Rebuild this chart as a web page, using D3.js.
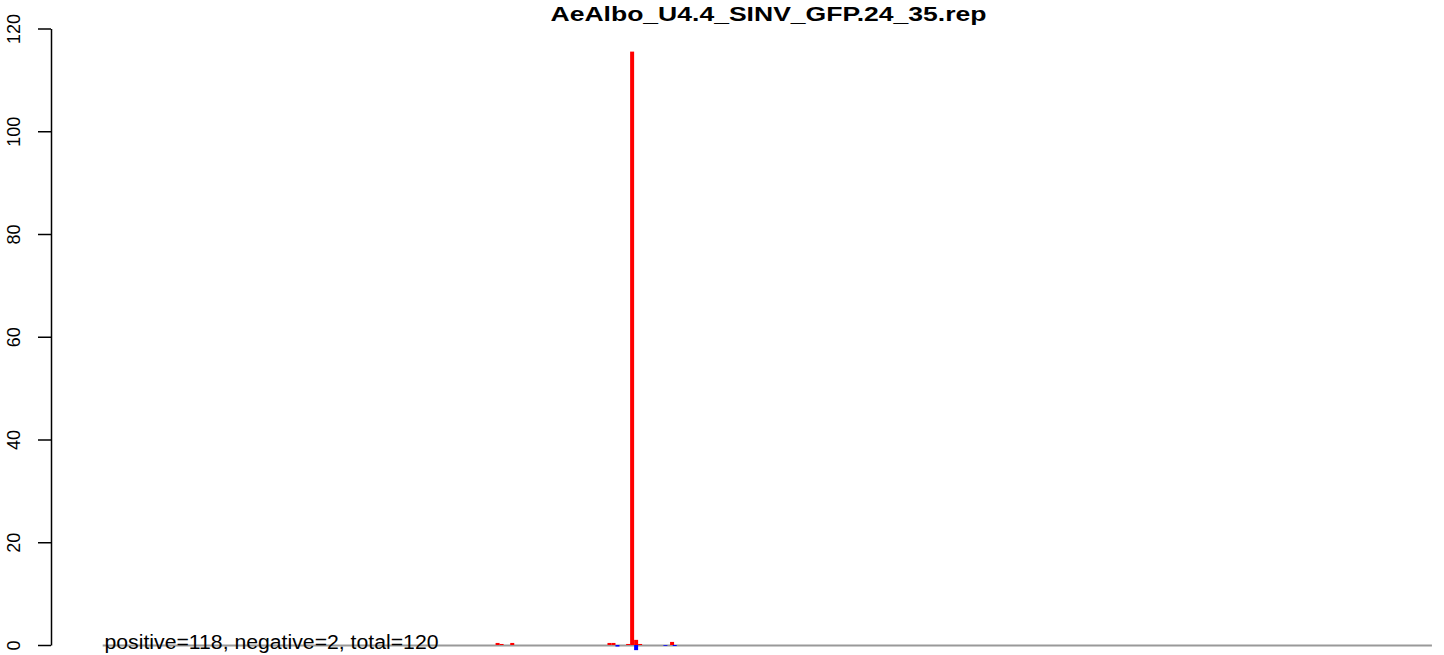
<!DOCTYPE html>
<html><head><meta charset="utf-8">
<script src="https://cdn.jsdelivr.net/npm/d3@7"></script>
<style>body{margin:0;background:#fff}svg{display:block}text{font-family:"Liberation Sans",Arial,sans-serif}</style>
</head><body><svg id="c" width="1444" height="655"></svg>
<script>
const title = "AeAlbo_U4.4_SINV_GFP.24_35.rep";
const summary = "positive=118, negative=2, total=120";
const yTicks = [0, 20, 40, 60, 80, 100, 120];
const posX = [297, 300, 308, 381, 384, 395, 398, 401, 404, 428];
const posV = [0.4, 0.2, 0.4, 0.4, 0.4, 0.2, 115.5, 1.0, 0.2, 0.6];
const negX = [387, 401, 423, 430];
const negV = [-0.3, -1.0, -0.15, -0.2];
const baseStart = 2, baseEnd = 1000, barW = 3;

const svg = d3.select("#c");
const x = d3.scaleLinear().domain([-36.8, 1002.3]).range([51, 1435]);
const y = d3.scaleLinear().domain([0, 120]).range([645, 28.5]);

svg.append("text").attr("x", 550.5).attr("y", 21)
  .attr("font-weight", "bold").attr("font-size", 21)
  .attr("textLength", 436).attr("lengthAdjust", "spacingAndGlyphs").text(title);

const ax = svg.append("g").attr("transform", "translate(51,0)")
  .call(d3.axisLeft(y).tickValues(yTicks).tickSize(13).tickSizeOuter(0).tickFormat(d3.format("d")));
ax.select(".domain").attr("stroke", "#000").attr("stroke-width", 1.5);
ax.selectAll(".tick line").attr("stroke", "#000").attr("stroke-width", 1.5);
ax.selectAll(".tick text").attr("font-size", 18).attr("fill", "#000")
  .attr("x", 0).attr("y", 0).attr("dy", 0).attr("text-anchor", "middle")
  .attr("font-family", "Liberation Sans, Arial, sans-serif")
  .attr("transform", "translate(-31,0) rotate(-90)");

svg.append("line").attr("x1", x(baseStart)).attr("x2", x(baseEnd))
  .attr("y1", y(0) + 0.5).attr("y2", y(0) + 0.5).attr("stroke", "#999").attr("stroke-width", 2);

svg.append("g").selectAll("rect").data(posX.map((p, i) => [p, posV[i]])).join("rect")
  .attr("x", d => x(d[0])).attr("width", d => x(d[0] + barW) - x(d[0]))
  .attr("y", d => y(d[1])).attr("height", d => y(0) - y(d[1])).attr("fill", "#ff0000");
svg.append("g").selectAll("rect").data(negX.map((p, i) => [p, negV[i]])).join("rect")
  .attr("x", d => x(d[0])).attr("width", d => x(d[0] + barW) - x(d[0]))
  .attr("y", y(0)).attr("height", d => y(d[1]) - y(0)).attr("fill", "#0000ff");

svg.append("text").attr("x", 104.5).attr("y", 648.5).attr("font-size", 20).attr("fill", "#000")
  .attr("textLength", 334).attr("lengthAdjust", "spacingAndGlyphs").text(summary);
</script></body></html>
